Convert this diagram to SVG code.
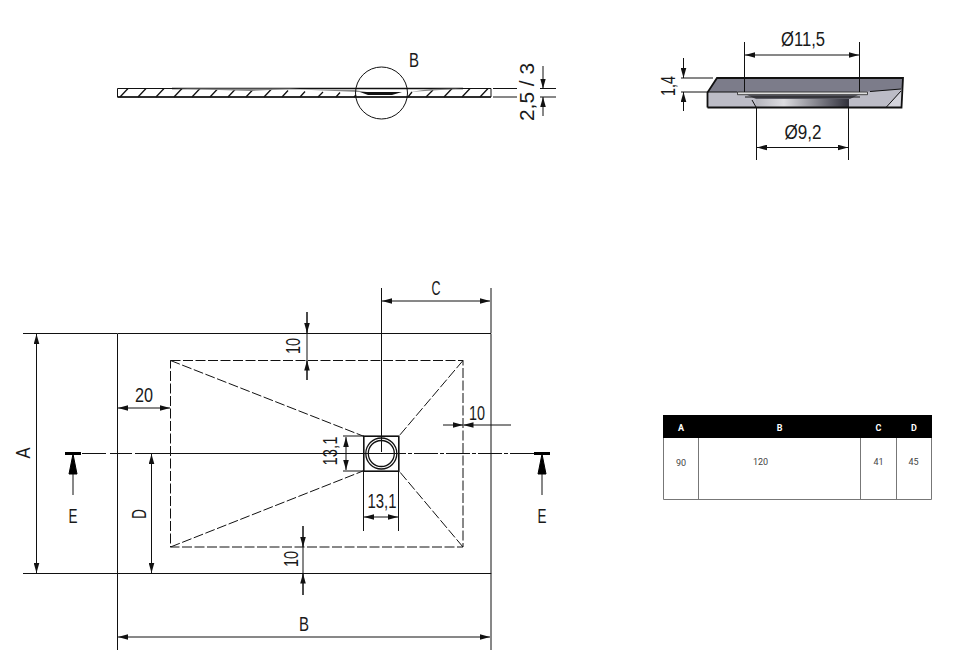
<svg xmlns="http://www.w3.org/2000/svg" width="979" height="659" viewBox="0 0 979 659">
<style>
text{font-family:"Liberation Sans",Arial,sans-serif;fill:#1a1a1a;text-anchor:middle}
.d{font-size:19.500px}
.t{font-size:9px;fill:#444;font-family:"Roboto",sans-serif}
.h{font-size:9px;fill:#fff;font-weight:700;font-family:"Roboto",sans-serif}
.l{fill:none;stroke:#111;stroke-width:1}
.m{fill:none;stroke:#111;stroke-width:1.300}
.b{fill:none;stroke:#111;stroke-width:1.800}
.dash{fill:none;stroke:#111;stroke-width:1;stroke-dasharray:10 2.500}
.ctr{fill:none;stroke:#111;stroke-width:1;stroke-dasharray:24 2 4 2}
.dim{fill:none;stroke:#111;stroke-width:1;marker-start:url(#as);marker-end:url(#ae)}
.o{fill:none;stroke:#111;stroke-width:1;marker-end:url(#ae)}
.tip{fill:#000;stroke:#000;stroke-width:1}
</style>
<defs>
<marker id="ae" markerUnits="userSpaceOnUse" markerWidth="10" markerHeight="6" refX="10" refY="3" orient="auto"><path d="M0 .2L10 3L0 5.800Z" fill="#111"/></marker>
<marker id="as" markerUnits="userSpaceOnUse" markerWidth="10" markerHeight="6" refX="0" refY="3" orient="auto"><path d="M10 .2L0 3L10 5.800Z" fill="#111"/></marker>
<linearGradient id="g2" x1="0" x2="1" y1="0" y2="0"><stop offset="0" stop-color="#b5b5bd"/><stop offset="0.3" stop-color="#dcdce0"/><stop offset="0.8" stop-color="#60606a"/><stop offset="1" stop-color="#30303a"/></linearGradient>
</defs>

<g id="section">
<path class="l" d="M117.500 88.500H491V97H117.500Z"/>
<path class="m" d="M172 88.500H463M117.500 97H491"/>
<path class="m" d="M120 97l8-8.500M138 97l8-8.500M156 97l8-8.500M174 97l8-8.500M192 97l8-8.500M210 97l8-8.500M228 97l8-8.500M246 97l8-8.500M264 97l8-8.500M282 97l6-6.500M300 97l5-5.500M318 97l5-5M336 97l4-4.500M354 97l2-2M408 97l4-5M426 97l7-7M444 97l8-8.500M462 97l8-8.500M480 97l8-8.500"/>
<path d="M172 88.500H300L250 91Z M300 89.500L370 92.500L354 90Z M410 92L463 88.500L430 89Z" fill="#888"/>
<path d="M360 92L368 95H392L402 92Z" fill="#111"/>
<circle class="l" cx="381.500" cy="93" r="26"/>
<text class="d" x="414" y="67" textLength="10" lengthAdjust="spacingAndGlyphs">B</text>
<path class="l" d="M493 88.500H517M493 97H517M540 88.500H556M540 97H556"/>
<path class="o" d="M543 66V88.500"/>
<path class="o" d="M543 116V97"/>
<text class="d" transform="translate(534,92) rotate(-90)" textLength="58" lengthAdjust="spacingAndGlyphs">2,5 / 3</text>
</g>

<g id="detail">
<path d="M717 78H903L901.500 92H708Z" fill="#7c7c8a"/>
<path d="M870 91.500L901.500 89V107.500H848V92Z M707 92H756V107.500H707Z" fill="#bcbcc6"/>
<path d="M886 107.500L901.500 91V107.500Z" fill="#d4d4dc"/>
<path d="M745 94H860L850 99H756Z" fill="#5a5a64"/>
<path d="M756 99H849V107.500H756Z" fill="url(#g2)"/>
<path d="M737.500 92H867.500V94.700H737.500Z" fill="#ddd" stroke="#222" stroke-width=".8"/>
<path class="b" d="M707.500 107.500V92.500L717 78H903L901.500 107.500H707.500"/>
<path class="l" d="M745 97H860M708 92H737M870 91.500L901 89M886 107.500L901 91M756 107L752 100"/>
<path class="l" d="M744.500 42V92M859.500 42V92M756.500 107V160M848.500 107V160M681 78H713M681 92H708"/>
<path class="dim" d="M745 55H859"/>
<path class="dim" d="M757 147.500H848"/>
<path class="o" d="M683.500 58V78"/>
<path class="o" d="M683.500 111V92"/>
<text class="d" x="803" y="46" textLength="44" lengthAdjust="spacingAndGlyphs">Ø11,5</text>
<text class="d" x="803" y="139" textLength="37" lengthAdjust="spacingAndGlyphs">Ø9,2</text>
<text class="d" transform="translate(675,86) rotate(-90)" textLength="20" lengthAdjust="spacingAndGlyphs">1,4</text>
</g>

<g id="plan">
<path class="l" d="M117.500 333.500H491V573.500H117.500Z"/>
<path class="dash" d="M170.500 360.500H463V547H170.500Z"/>
<path class="dash" d="M170.500 360.500L363 436M463 360.500L399 436M170.500 547L363 471M463 547L399 471"/>
<g id="drain">
<rect x="363.800" y="436.200" width="35" height="35" fill="none" stroke="#111" stroke-width="1.600"/>
<circle class="m" cx="381.300" cy="453.500" r="15.500"/>
<circle class="m" cx="381.300" cy="453.500" r="13"/>
</g>
</g>

<g id="connectors">
<path class="l" d="M82 453.500H106M110 453.500H132M135 453.500H382"/>
<path class="ctr" d="M382 453.500H534"/>
<path d="M65 453.500H81M534 453.500H550" stroke="#000" stroke-width="3" fill="none"/>
<polygon class="tip" points="73,454 69,474 77,474"/>
<polygon class="tip" points="542,454 538,474 546,474"/>
<path class="l" d="M73 474V495M542 474V495"/>
<path class="l" d="M23 333.500H117M23 573.500H117M117.500 573V650M491 573V650M381.500 288V452M491 288V333"/>
<path class="l" d="M343 436H364M343 471H364M363.500 471V531M398.500 471V531M307 312V380M303 526V595"/>
<path class="dim" d="M36.500 334V573"/>
<path class="dim" d="M118 408H170"/>
<path class="dim" d="M151.500 454V573"/>
<path class="dim" d="M118 637H490"/>
<path class="dim" d="M382 301H490"/>
<path class="o" d="M443 425H463"/>
<path class="o" d="M511 425H463.500"/>
<path class="o" d="M307 312V333"/>
<path class="o" d="M307 380V360.500"/>
<path class="o" d="M303 526V547"/>
<path class="o" d="M303 595V573.500"/>
<path class="dim" d="M346 437V470"/>
<path class="dim" d="M364 517H398"/>
</g>

<g id="plan-labels">
<text class="d" x="436" y="295" textLength="9" lengthAdjust="spacingAndGlyphs">C</text>
<text class="d" x="144" y="402" textLength="18" lengthAdjust="spacingAndGlyphs">20</text>
<text class="d" x="477" y="420" textLength="16" lengthAdjust="spacingAndGlyphs">10</text>
<text class="d" transform="translate(300,346) rotate(-90)" textLength="16" lengthAdjust="spacingAndGlyphs">10</text>
<text class="d" transform="translate(298,559) rotate(-90)" textLength="16" lengthAdjust="spacingAndGlyphs">10</text>
<text class="d" transform="translate(336.500,451) rotate(-90)" textLength="29" lengthAdjust="spacingAndGlyphs">13,1</text>
<text class="d" x="382" y="508" textLength="29" lengthAdjust="spacingAndGlyphs">13,1</text>
<text class="d" transform="translate(30,453) rotate(-90)" textLength="11" lengthAdjust="spacingAndGlyphs">A</text>
<text class="d" transform="translate(146,514) rotate(-90)" textLength="10" lengthAdjust="spacingAndGlyphs">D</text>
<text class="d" x="73" y="523" textLength="9" lengthAdjust="spacingAndGlyphs">E</text>
<text class="d" x="542" y="523" textLength="9" lengthAdjust="spacingAndGlyphs">E</text>
<text class="d" x="304" y="631" textLength="10" lengthAdjust="spacingAndGlyphs">B</text>
</g>

<g id="table">
<rect x="663" y="415" width="269" height="23" fill="#000"/>
<path d="M663.500 438V499.500H931.500V438M698.500 438V499.500M860.500 438V499.500M896.500 438V499.500" fill="none" stroke="#777" stroke-width="1"/>
<text class="h" x="681" y="431">A</text>
<text class="h" x="779.500" y="431">B</text>
<text class="h" x="878.500" y="431">C</text>
<text class="h" x="914" y="431">D</text>
<text class="t" x="681" y="466">90</text>
<text class="t" x="760.500" y="465">120</text>
<text class="t" x="878.500" y="465">41</text>
<text class="t" x="913.500" y="465">45</text>
</g>
</svg>
